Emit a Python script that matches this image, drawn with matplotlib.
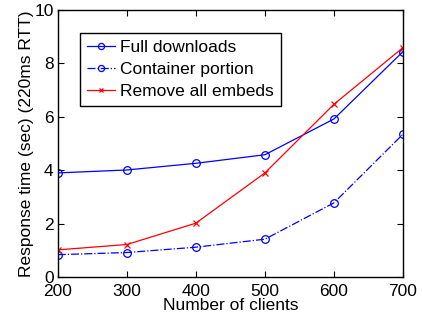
import matplotlib
matplotlib.use('Agg')
import matplotlib.pyplot as plt

matplotlib.rcParams['font.family'] = 'Liberation Sans'
matplotlib.rcParams['font.size'] = 12.5

clients = [200, 300, 400, 500, 600, 700]
full_downloads = [3.90, 4.01, 4.26, 4.58, 5.92, 8.44]
container_portion = [0.84, 0.92, 1.12, 1.42, 2.78, 5.35]
remove_embeds = [1.02, 1.22, 2.02, 3.90, 6.47, 8.59]

fig = plt.figure(figsize=(4.22, 3.2), dpi=100)
ax = fig.add_axes([0.137, 0.134, 0.818, 0.835])

ax.plot(clients, full_downloads, '-o', color='blue', lw=0.9, ms=5.5,
        mfc='none', mew=0.9, label='Full downloads')
ax.plot(clients, container_portion, '-.o', color='blue', lw=0.9, ms=5.5,
        mfc='none', mew=0.9, label='Container portion')
ax.plot(clients, remove_embeds, '-x', color='red', lw=0.9, ms=4,
        mew=0.9, label='Remove all embeds')

ax.set_xlim(200, 700)
ax.set_ylim(0, 10)
ax.set_xticks(clients)
ax.set_yticks([0, 2, 4, 6, 8, 10])
ax.tick_params(direction='in', top=True, right=True, length=4)
ax.tick_params(axis='x', pad=5)
ax.tick_params(axis='y', pad=3)
for s in ax.spines.values():
    s.set_linewidth(1.0)

ax.set_xlabel('Number of clients', labelpad=-1)
ax.set_ylabel('Response time (sec) (220ms RTT)', labelpad=0)

leg = ax.legend(loc='upper left', bbox_to_anchor=(0.064, 0.914), fancybox=False,
                edgecolor='black', framealpha=1, borderpad=0.4, labelspacing=0.4,
                handlelength=1.6, handletextpad=0.3, borderaxespad=0,
                markerscale=0.8)
leg.get_frame().set_linewidth(1.0)

fig.savefig('out.png', dpi=100)
